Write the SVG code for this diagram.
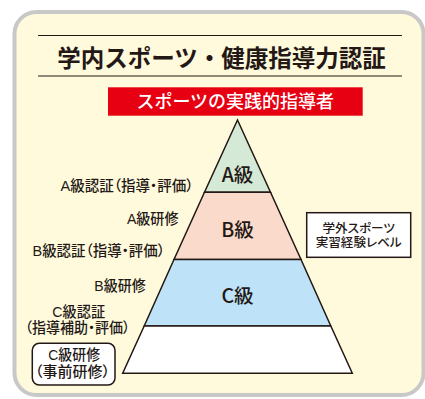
<svg xmlns="http://www.w3.org/2000/svg" width="425" height="399" viewBox="0 0 425 399">
<style>
text{font-family:"Noto Sans CJK JP","Noto Sans",sans-serif;fill:#231815}
.t{font-size:23.5px;font-weight:bold;text-anchor:middle}
.r{font-size:18px;font-weight:500;fill:#fff;text-anchor:middle}
.g{font-size:19.5px;font-weight:500;text-anchor:middle}
.l,.c,.s{font-family:"Liberation Sans","Noto Sans CJK JP",sans-serif;font-weight:500;font-feature-settings:"palt"}
.l{font-size:14.5px;text-anchor:end}
.c{font-size:14.5px;text-anchor:middle}
.s{font-size:12px;text-anchor:middle}
.band{stroke:#231815;stroke-width:1.5;stroke-linejoin:miter}
</style>
<rect x="14.5" y="12" width="409" height="383" rx="22" fill="#FFFADC" stroke="#C8C8C8" stroke-width="4"/>
<g id="title">
<line x1="38" y1="35.5" x2="402" y2="35.5" stroke="#231815" stroke-width="1.2"/>
<line x1="38" y1="76" x2="402" y2="76" stroke="#231815" stroke-width="1.2"/>
<text class="t" x="221.5" y="67">学内スポーツ・健康指導力認証</text>
</g>
<g id="goal">
<rect x="108" y="87.3" width="254.7" height="28.4" fill="#E60012"/>
<text class="r" x="235.3" y="108">スポーツの実践的指導者</text>
</g>
<g id="pyramid">
<g id="levelA"><polygon class="band" points="237.5,120 270.5,192.3 204.5,192.3" fill="#D4E9D6"/><text class="g" x="237.5" y="182">A級</text></g>
<g id="levelB"><polygon class="band" points="204.5,192.3 270.5,192.3 301,259.5 174,259.5" fill="#FADBCB"/><text class="g" x="237.5" y="237">B級</text></g>
<g id="levelC"><polygon class="band" points="174,259.5 301,259.5 330.8,326 144.2,326" fill="#BEE3F8"/><text class="g" x="237.5" y="303">C級</text></g>
<g id="base"><polygon class="band" points="144.2,326 330.8,326 352.3,373.3 122.7,373.3" fill="#FFFFFF"/></g>
</g>
<g id="labels">
<text class="l" x="193.5" y="190.5" textLength="133" lengthAdjust="spacingAndGlyphs">A級認証（指導・評価）</text>
<text class="l" x="178.5" y="223.5" textLength="51.6" lengthAdjust="spacingAndGlyphs">A級研修</text>
<text class="l" x="165" y="256" textLength="132.5" lengthAdjust="spacingAndGlyphs">B級認証（指導・評価）</text>
<text class="l" x="145.7" y="290.5" textLength="51.4" lengthAdjust="spacingAndGlyphs">B級研修</text>
<text class="c" x="78.7" y="316.5"><tspan x="78.7" y="316.5" textLength="52.7" lengthAdjust="spacingAndGlyphs">C級認証</tspan><tspan x="77.5" y="333" textLength="105" lengthAdjust="spacingAndGlyphs">（指導補助・評価）</tspan></text>
</g>
<g id="preTraining">
<rect x="32.3" y="343.3" width="82.7" height="41.7" rx="7" fill="#FFFFFF" stroke="#231815" stroke-width="1.5"/>
<text class="c" x="74.2" y="360"><tspan x="74.2" y="360" textLength="51.7" lengthAdjust="spacingAndGlyphs">C級研修</tspan><tspan x="72.5" y="377" textLength="75" lengthAdjust="spacingAndGlyphs">（事前研修）</tspan></text>
</g>
<g id="experience">
<rect x="306.7" y="212.7" width="104" height="44.6" fill="#FFFFFF" stroke="#231815" stroke-width="1.5"/>
<text class="s" x="358.7" y="233"><tspan x="358.7" y="233" textLength="72.3" lengthAdjust="spacingAndGlyphs">学外スポーツ</tspan><tspan x="358.7" y="246.5" textLength="86" lengthAdjust="spacingAndGlyphs">実習経験レベル</tspan></text>
</g>
<g id="connectors"></g>
</svg>
